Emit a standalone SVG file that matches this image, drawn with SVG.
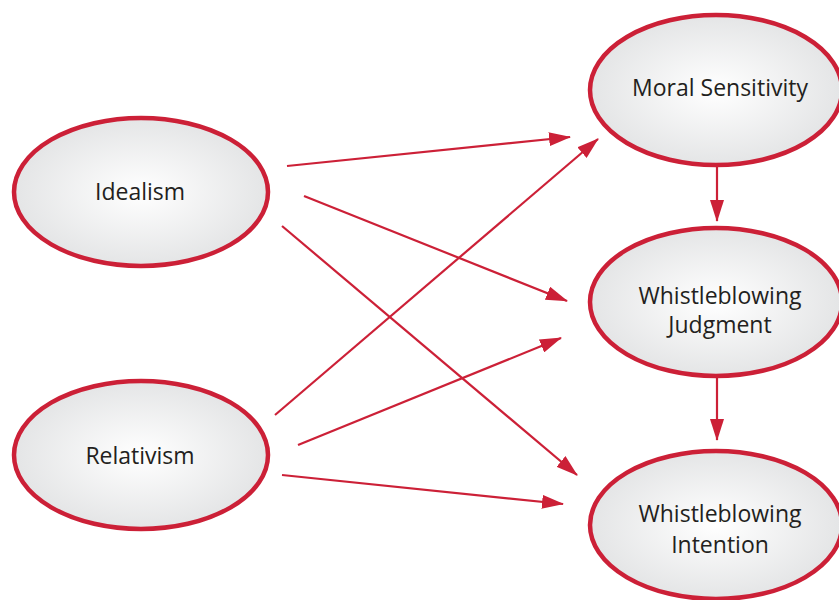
<svg xmlns="http://www.w3.org/2000/svg" width="839" height="600" viewBox="0 0 839 600">
<defs>
<radialGradient id="g" cx="50%" cy="50%" r="50%">
<stop offset="0" stop-color="#ffffff"/>
<stop offset="1" stop-color="#e4e5e6"/>
</radialGradient>
<marker id="ah" viewBox="0 0 22 14" refX="21" refY="7" markerWidth="22" markerHeight="14" markerUnits="userSpaceOnUse" orient="auto">
<path d="M0,0 L22,7 L0,14 Z" fill="#cc2037"/>
</marker>
<style>
.n{fill:url(#g);stroke:#cc2037;stroke-width:4.5}
.t{font-family:"Open Sans","Liberation Sans",sans-serif;font-size:23px;fill:#231f20;text-anchor:middle}
.c{stroke:#cc2037;stroke-width:2.2;fill:none;marker-end:url(#ah)}
</style>
</defs>
<rect width="839" height="600" fill="#ffffff"/>
<g id="connectors">
<line class="c" x1="287" y1="166" x2="570" y2="137"/>
<line class="c" x1="304" y1="196" x2="567" y2="301"/>
<line class="c" x1="282" y1="226" x2="577" y2="475"/>
<line class="c" x1="275" y1="415" x2="598" y2="139"/>
<line class="c" x1="298" y1="445" x2="561" y2="338"/>
<line class="c" x1="282" y1="475" x2="563" y2="504"/>
<line class="c" x1="717" y1="163" x2="717" y2="221"/>
<line class="c" x1="717" y1="378" x2="717" y2="440"/>
</g>
<g id="idealism">
<ellipse class="n" cx="141" cy="192" rx="127" ry="74"/>
<text class="t" x="140" y="200">Idealism</text>
</g>
<g id="relativism">
<ellipse class="n" cx="141" cy="455" rx="127" ry="74"/>
<text class="t" x="140" y="464">Relativism</text>
</g>
<g id="moral-sensitivity">
<ellipse class="n" cx="716" cy="90" rx="126" ry="75"/>
<text class="t" x="720" y="96">Moral Sensitivity</text>
</g>
<g id="whistleblowing-judgment">
<ellipse class="n" cx="716" cy="302" rx="126" ry="74"/>
<text class="t" x="720" y="304">Whistleblowing</text>
<text class="t" x="720" y="333">Judgment</text>
</g>
<g id="whistleblowing-intention">
<ellipse class="n" cx="716" cy="525" rx="126" ry="74"/>
<text class="t" x="720" y="522">Whistleblowing</text>
<text class="t" x="720" y="553">Intention</text>
</g>
</svg>
